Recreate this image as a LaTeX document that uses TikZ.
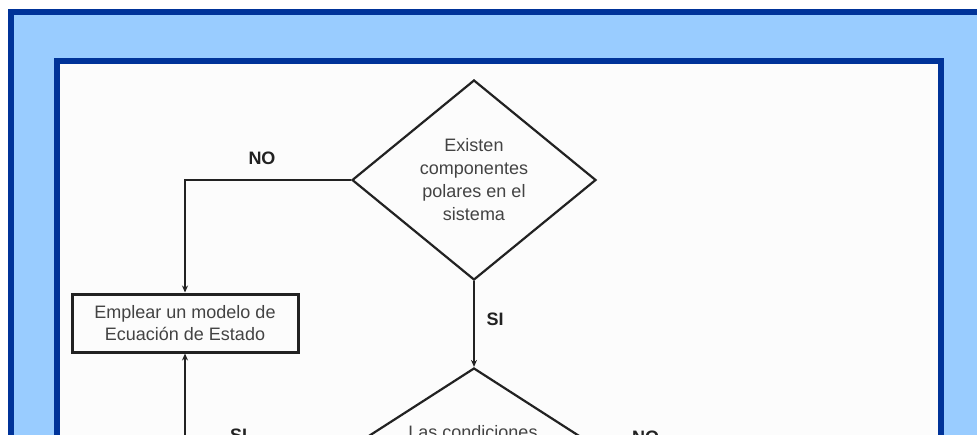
\documentclass[tikz,border=0pt]{standalone}
\usepackage{fontspec}
\setmainfont{Liberation Sans}
\usetikzlibrary{shapes.geometric,arrows.meta}
\definecolor{darkblue}{HTML}{003399}
\definecolor{lightblue}{HTML}{99CCFF}
\definecolor{paper}{HTML}{FCFCFC}
\definecolor{ink}{HTML}{222222}
\tikzset{
  decision/.style={diamond, draw=ink, line width=2.2pt, fill=paper, inner sep=0pt,
     font=\fontsize{18}{23}\selectfont, text=ink!85, align=center},
  process/.style={rectangle, draw=ink, line width=3pt, fill=paper, inner sep=0pt,
     minimum width=226pt, minimum height=58pt, font=\fontsize{18}{22}\selectfont, text=ink!85, align=center},
  conn/.style={draw=ink, line width=1.4pt, -{Stealth[length=7pt,width=6pt]}},
  lbl/.style={font=\bfseries\fontsize{18}{20}\selectfont, text=ink, inner sep=0pt}
}
\begin{document}
\begin{tikzpicture}[x=1pt,y=-1pt]
\useasboundingbox (0,0) rectangle (977,434);
\clip (0,0) rectangle (977,434);
\fill[white] (0,0) rectangle (977,434);
% outer frame
\filldraw[fill=lightblue, draw=darkblue, line width=6pt] (11,12) rectangle (1000,480);
% inner frame
\filldraw[fill=paper, draw=darkblue, line width=6pt] (57,61) rectangle (941,480);

% nodes
\node[decision, minimum width=244pt, minimum height=200pt] (d1) at (474,180)
  {Existen\\componentes\\polares en el\\sistema};
\node[process] (box) at (185,323) {Emplear un modelo de\\Ecuación de Estado};
\node[decision, minimum width=286pt, minimum height=184pt] (d2) at (474,460) {};
\node[font=\fontsize{18}{22}\selectfont, text=ink!85, anchor=base, inner sep=0pt] (d2text) at (473,438) {Las condiciones};

% connectors
\draw[conn] (d1.west) -| (box.north);
\draw[conn] (d1.south) -- (d2.north);
\draw[conn] (d2.west) -| (box.south);

% labels
\node[lbl] (lno1) at (262,158) {NO};
\node[lbl] (lsi1) at (495,319) {SI};
\node[lbl, anchor=base west] (lsi2) at (230,441) {SI};
\node[lbl, anchor=base west] (lno2) at (632,443) {NO};
\end{tikzpicture}
\end{document}
